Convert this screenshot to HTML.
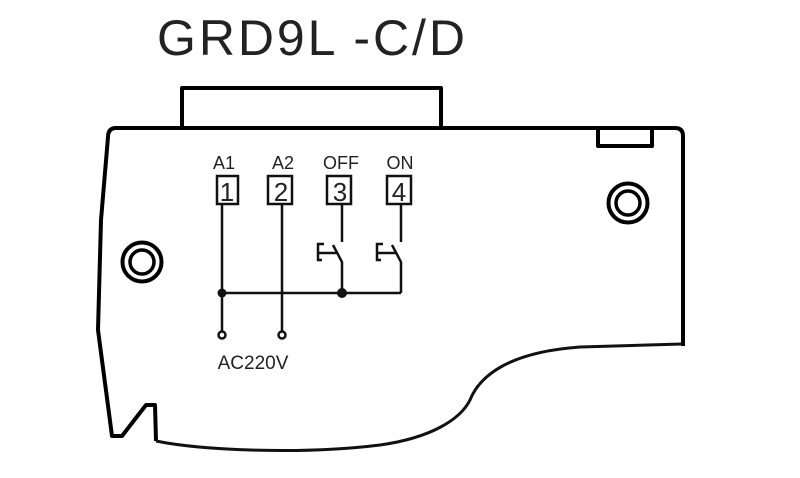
<!DOCTYPE html>
<html><head><meta charset="utf-8"><style>
html,body{margin:0;padding:0;background:#fff;}
svg{display:block;}
</style></head><body>
<svg width="800" height="478" viewBox="0 0 800 478" xmlns="http://www.w3.org/2000/svg">
<text x="157" y="55" font-family="Liberation Sans, sans-serif" font-size="50" fill="#222" textLength="308" lengthAdjust="spacing">GRD9L -C/D</text>
<g fill="none" stroke="#000" stroke-width="4" stroke-linejoin="round">
<path d="M182,128 L182,88 L441,88 L441,128"/>
<path d="M675,128 Q683,128 683,136 L683,346"/>
<path d="M108,137 Q108,128 116,128 L675,128"/>
<path d="M108,137 L101,220 L98,330 L112,436 L122,436 L146,405 L155,405 L156,441"/>
<path d="M598,128 L598,146 L652,146 L652,128"/>
</g>
<path d="M156,441 C200,450 300,455 380,445 C430,438 460,420 470,400 C480,375 510,352 580,347 L682,344" fill="none" stroke="#111" stroke-width="3"/>
<g fill="none" stroke="#000">
<circle cx="142" cy="262" r="19.5" stroke-width="4"/>
<circle cx="142" cy="262" r="12" stroke-width="3.5"/>
<circle cx="628" cy="203" r="19.5" stroke-width="4"/>
<circle cx="628" cy="203" r="12" stroke-width="3.5"/>
</g>
<g font-family="Liberation Sans, sans-serif" font-size="18" fill="#222" text-anchor="middle">
<text x="224" y="169">A1</text>
<text x="283" y="169">A2</text>
<text x="341" y="169">OFF</text>
<text x="400" y="169">ON</text>
<text x="227" y="201" font-size="26">1</text>
<text x="281" y="201" font-size="26">2</text>
<text x="340" y="201" font-size="26">3</text>
<text x="399" y="201" font-size="26">4</text>
<text x="253" y="369" font-size="19">AC220V</text>
</g>
<g fill="none" stroke="#111" stroke-width="2.5">
<rect x="217" y="176" width="21" height="28"/>
<rect x="268" y="176" width="24" height="28"/>
<rect x="327" y="176" width="24" height="28"/>
<rect x="387" y="176" width="24" height="28"/>
<path d="M222,204 L222,332"/>
<path d="M282,204 L282,332"/>
<path d="M342,204 L342,242"/>
<path d="M401,204 L401,242"/>
<path d="M324,244 L318,244 L318,260 L322,260 M318,253 L337,253 M333,245 L342,262 L342,293"/>
<path d="M383,244 L377,244 L377,260 L381,260 M377,253 L396,253 M392,245 L401,262 L401,293"/>
<path d="M222,293 L401,293"/>
<circle cx="222" cy="335" r="3.5"/>
<circle cx="282" cy="335" r="3.5"/>
</g>
<circle cx="222" cy="293" r="4.5" fill="#111"/>
<circle cx="342" cy="293" r="5" fill="#111"/>
</svg>
</body></html>
